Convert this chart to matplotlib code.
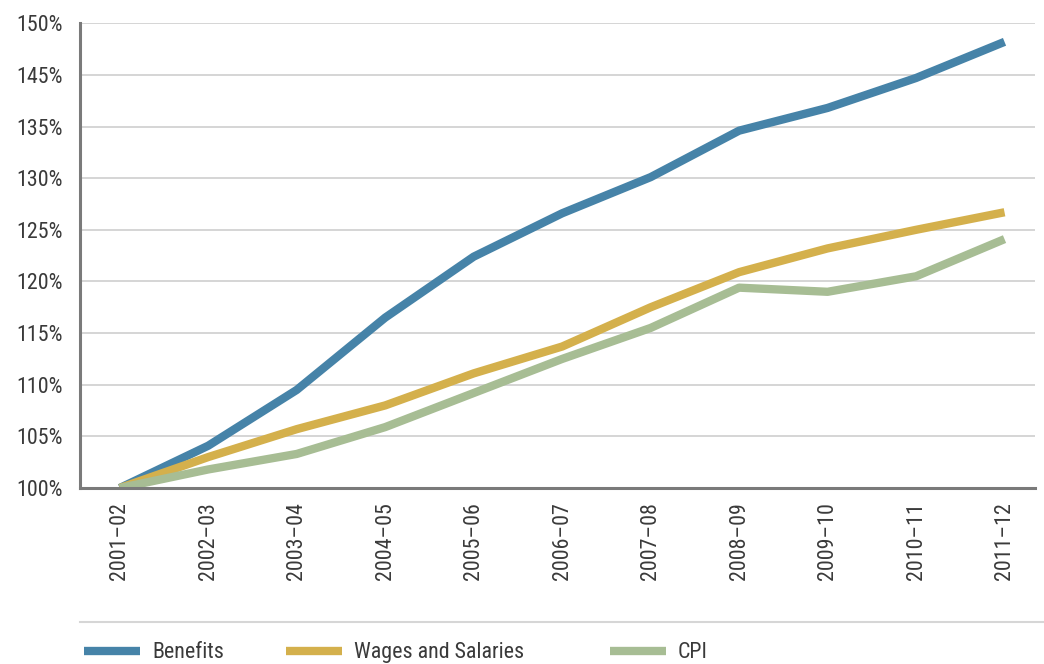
import matplotlib
matplotlib.use("Agg")
import matplotlib.pyplot as plt
from matplotlib.lines import Line2D
from matplotlib import font_manager

names = {f.name for f in font_manager.fontManager.ttflist}
for cand in ["Roboto Condensed", "Liberation Sans Narrow", "Open Sans Condensed", "Roboto"]:
    if cand in names:
        FONT = cand
        break
else:
    FONT = "DejaVu Sans"
plt.rcParams["font.family"] = [FONT, "DejaVu Sans"]

# data, in axis units (gridlines evenly spaced, labels as printed)
YEARS = ["2001–02", "2002–03", "2003–04", "2004–05", "2005–06", "2006–07",
         "2007–08", "2008–09", "2009–10", "2010–11", "2011–12"]
BENEFITS = [100.0, 104.1, 109.5, 116.5, 122.4, 126.6, 130.1, 134.6, 136.8, 139.7, 143.2]
WAGES = [100.0, 103.0, 105.7, 108.0, 111.1, 113.7, 117.5, 120.9, 123.2, 125.0, 126.7]
CPI = [100.0, 101.8, 103.3, 105.9, 109.2, 112.5, 115.5, 119.4, 119.0, 120.5, 124.1]
Y_TICKS = [100, 105, 110, 115, 120, 125, 130, 135, 140, 145]
Y_LABELS = ["100%", "105%", "110%", "115%", "120%", "125%", "130%", "135%", "145%", "150%"]

TEXT = "#3a3a3a"
FS = 15.8

fig = plt.figure(figsize=(10.44, 6.64), dpi=100)
ax = fig.add_axes([0.0766, 0.265, 0.9144, 0.700])

x = range(len(YEARS))
ax.plot(x, BENEFITS, color="#4683a8", lw=6, label="Benefits", solid_capstyle="butt")
ax.plot(x, WAGES, color="#d4b04c", lw=6, label="Wages and Salaries", solid_capstyle="butt")
ax.plot(x, CPI, color="#a7bd94", lw=6, label="CPI", solid_capstyle="butt")

ax.set_xlim(-0.45, 10.34)
ax.set_ylim(100, 145)
ax.set_yticks(Y_TICKS)
ax.set_yticklabels(Y_LABELS)
ax.set_xticks(list(x))
ax.set_xticklabels(YEARS, rotation=90)
ax.tick_params(axis="both", length=0, labelsize=FS, colors=TEXT)
ax.tick_params(axis="y", pad=12)
ax.tick_params(axis="x", pad=10)

ax.grid(axis="y", color="#d2d2d2", lw=1.3)
ax.set_axisbelow(True)
for s in ["top", "right"]:
    ax.spines[s].set_visible(False)
for s in ["left", "bottom"]:
    ax.spines[s].set_color("#7a7a7a")
    ax.spines[s].set_linewidth(2.2)

# separator above legend
fig.add_artist(Line2D([80 / 1044, 1.0], [1 - 622 / 664] * 2, color="#d6d6d6", lw=1.5))

# one legend entry per item so each sits where the reference has it
handles, labels = ax.get_legend_handles_labels()
starts = [84, 286, 610]
for h, l, px in zip(handles, labels, starts):
    fig.legend([h], [l], loc="center left", bbox_to_anchor=(px / 1044, 0.017),
               frameon=False, fontsize=FS, handlelength=2.55,
               handletextpad=0.55, borderpad=0.0, borderaxespad=0.0,
               labelcolor=TEXT)

fig.savefig("out.png", dpi=100)
